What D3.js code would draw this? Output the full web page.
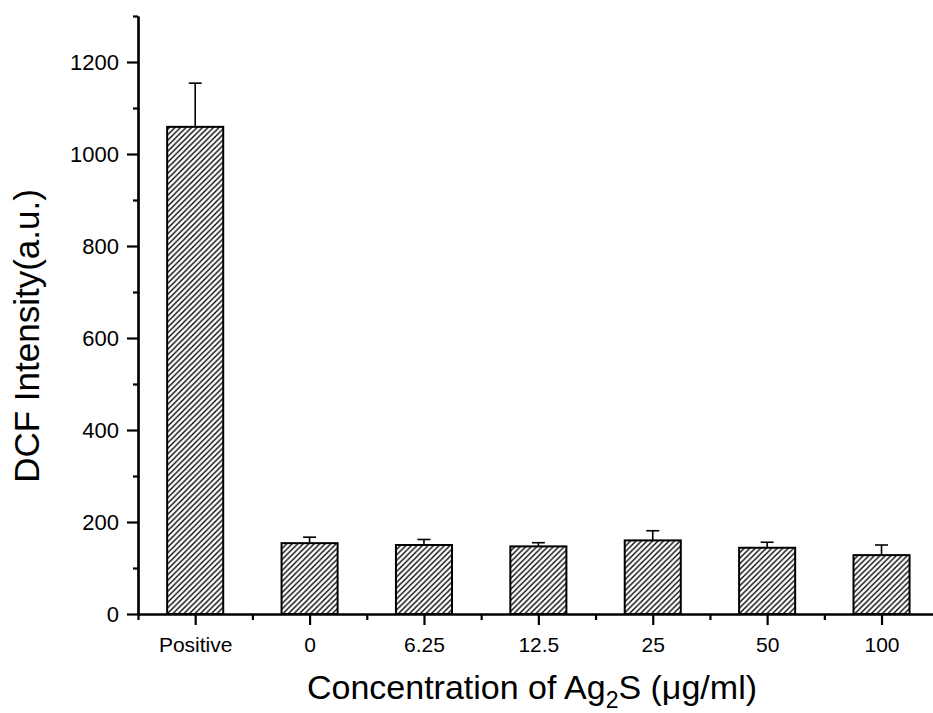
<!DOCTYPE html>
<html>
<head>
<meta charset="utf-8">
<script src="https://cdn.jsdelivr.net/npm/d3@7/dist/d3.min.js"></script>
<style>
  body { margin: 0; background: #fff; }
  svg { display: block; }
  text { font-family: "Liberation Sans", Arial, sans-serif; fill: #000; }
</style>
</head>
<body>
<div id="wrapper"></div>
<script>
// Data
const categories = ["Positive", "0", "6.25", "12.5", "25", "50", "100"];
const means = [1059, 154, 150, 147, 160, 144, 128];
const errors = [95, 13, 12, 8, 21, 12, 22];
const yMajorTicks = [0, 200, 400, 600, 800, 1000, 1200];
const yMinorTicks = [100, 300, 500, 700, 900, 1100, 1300];

// Dimensions
const dimensions = (() => {
    let dimensions = {
        width: 933,
        height: 713,
        margin: { top: 16, right: 0, bottom: 99, left: 138 },
    };
    dimensions.boundedWidth = dimensions.width - dimensions.margin.left - dimensions.margin.right;
    dimensions.boundedHeight = dimensions.height - dimensions.margin.top - dimensions.margin.bottom;
    return dimensions;
})();

function drawBarChart() {
    const svg = d3.select("#wrapper")
        .append("svg")
        .attr("width", dimensions.width)
        .attr("height", dimensions.height);

    // hatch pattern
    const pattern = svg.append("defs").append("pattern")
        .attr("id", "hatch")
        .attr("patternUnits", "userSpaceOnUse")
        .attr("width", 5.5)
        .attr("height", 5.5);
    pattern.append("rect").attr("width", 5.5).attr("height", 5.5).attr("fill", "#fff");
    pattern.append("path")
        .attr("d", "M0,5.5 L5.5,0 M-1,1 L1,-1 M4.5,6.5 L6.5,4.5")
        .attr("stroke", "#000")
        .attr("stroke-width", 1.3);

    const bounds = svg.append("g")
        .attr("transform", `translate(${dimensions.margin.left},${dimensions.margin.top})`);

    // Scales
    const xScale = d3.scaleLinear()
        .domain([-0.5, 6.45])
        .range([0, dimensions.boundedWidth]);
    const step = xScale(1) - xScale(0);
    const barWidth = step * 0.49;

    const yScale = d3.scaleLinear()
        .domain([0, 1300])
        .range([dimensions.boundedHeight, 0]);

    // Bars
    bounds.selectAll("rect.bar")
        .data(means)
        .join("rect")
        .attr("class", "bar")
        .attr("x", (d, i) => xScale(i) - barWidth / 2)
        .attr("y", d => yScale(d))
        .attr("width", barWidth)
        .attr("height", d => yScale(0) - yScale(d))
        .attr("fill", "url(#hatch)")
        .attr("stroke", "#000")
        .attr("stroke-width", 2);

    // Error bars (upper only)
    const err = bounds.selectAll("g.err")
        .data(means)
        .join("g")
        .attr("class", "err");
    err.append("line")
        .attr("x1", (d, i) => xScale(i))
        .attr("x2", (d, i) => xScale(i))
        .attr("y1", d => yScale(d))
        .attr("y2", (d, i) => yScale(d + errors[i]))
        .attr("stroke", "#000")
        .attr("stroke-width", 1.6);
    err.append("line")
        .attr("x1", (d, i) => xScale(i) - 6.5)
        .attr("x2", (d, i) => xScale(i) + 6.5)
        .attr("y1", (d, i) => yScale(d + errors[i]))
        .attr("y2", (d, i) => yScale(d + errors[i]))
        .attr("stroke", "#000")
        .attr("stroke-width", 1.6);

    // Y axis
    const yAxis = bounds.append("g")
        .call(d3.axisLeft(yScale).tickValues(yMajorTicks).tickFormat(d3.format("d"))
            .tickSize(11).tickPadding(8).tickSizeOuter(0));
    bounds.append("g")
        .call(d3.axisLeft(yScale).tickValues(yMinorTicks).tickSize(5).tickFormat("").tickSizeOuter(0));

    // X axis
    const xAxis = bounds.append("g")
        .attr("transform", `translate(0,${dimensions.boundedHeight})`)
        .call(d3.axisBottom(xScale)
            .tickValues(d3.range(categories.length))
            .tickFormat(i => categories[i])
            .tickSize(11).tickPadding(12).tickSizeOuter(0));
    bounds.append("g")
        .attr("transform", `translate(0,${dimensions.boundedHeight})`)
        .call(d3.axisBottom(xScale)
            .tickValues(d3.range(-0.5, 6, 1))
            .tickSize(6).tickFormat("").tickSizeOuter(0));

    bounds.selectAll(".domain, .tick line")
        .attr("stroke", "#000")
        .attr("stroke-width", 2.2);
    yAxis.selectAll("text").style("font-size", "22px").style("font-family", "Liberation Sans, Arial, sans-serif");
    xAxis.selectAll("text").style("font-size", "21px").style("font-family", "Liberation Sans, Arial, sans-serif");

    // Axis titles
    const xTitle = svg.append("text")
        .attr("x", 532)
        .attr("y", 699)
        .attr("text-anchor", "middle")
        .style("font-size", "34px");
    xTitle.append("tspan").text("Concentration of Ag");
    xTitle.append("tspan").attr("dy", 9).style("font-size", "23px").text("2");
    xTitle.append("tspan").attr("dy", -9).text("S (\u03bcg/ml)");

    svg.append("text")
        .attr("transform", "translate(39,336) rotate(-90)")
        .attr("text-anchor", "middle")
        .style("font-size", "35px")
        .text("DCF Intensity(a.u.)");
}
drawBarChart();
</script>
</body>
</html>
